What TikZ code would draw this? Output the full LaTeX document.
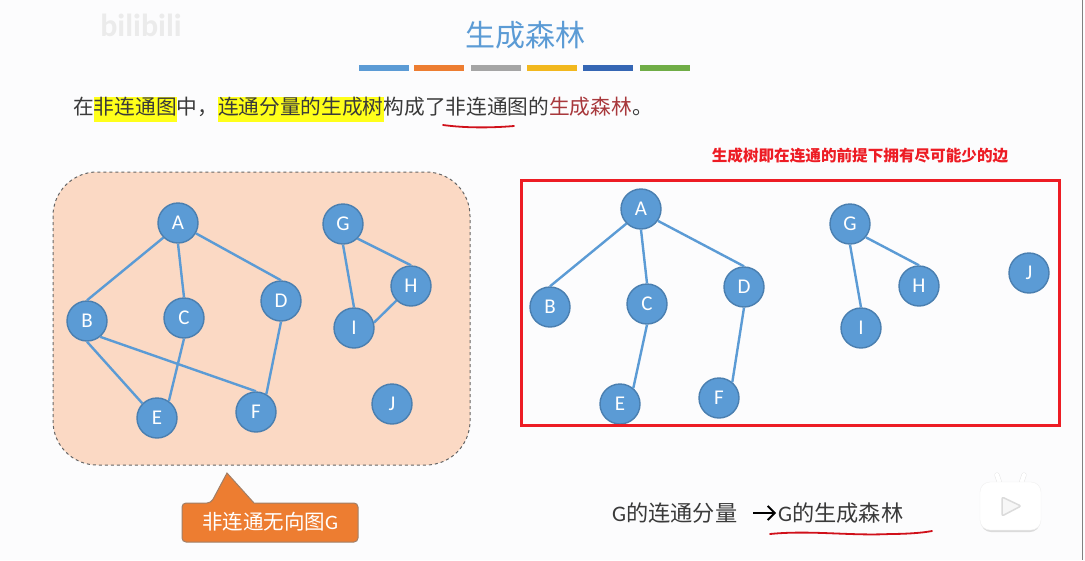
\documentclass[tikz,border=0pt]{standalone}
\usepackage{fontspec}
\usepackage{xcolor}
\setmainfont{Noto Sans CJK SC}
\newfontfamily\latinfont{Carlito}
\usetikzlibrary{positioning, arrows.meta}
\definecolor{pagewhite}{HTML}{FCFCFD}
\definecolor{nodeblue}{HTML}{5B9BD5}
\definecolor{nodeline}{HTML}{4A7FB0}
\definecolor{peach}{HTML}{FBD9C4}
\definecolor{calloutorange}{HTML}{ED7D31}
\definecolor{bargray}{HTML}{A5A5A5}
\definecolor{baryellow}{HTML}{F2B81E}
\definecolor{barblue}{HTML}{3566B4}
\definecolor{bargreen}{HTML}{70AD47}
\definecolor{darktext}{HTML}{3A3A3A}
\definecolor{darkred}{HTML}{A8383C}
\definecolor{boxred}{HTML}{ED1C24}
\definecolor{penred}{HTML}{D0101A}
\definecolor{markyellow}{HTML}{FFFF1A}
\newcommand{\marked}[1]{{\setlength{\fboxsep}{0pt}\colorbox{markyellow}{\strut #1}}}
\tikzset{
    vertex/.style={circle, draw=nodeline, fill=nodeblue, line width=1.4pt, minimum size=40pt, inner sep=0pt, text=white, font=\latinfont\fontsize{21}{22}\selectfont},
    arc/.style={draw=nodeblue, line width=2.4pt},
    colorbar/.style={inner sep=0pt, minimum height=6pt, minimum width=50pt},
    pen/.style={draw=penred, line width=1.8pt, line cap=round}
}

\begin{document}
\begin{tikzpicture}[x=1pt, y=-1pt]
\useasboundingbox (0,0) rectangle (1085,560);
\fill[pagewhite] (0,0) rectangle (1085,560);

% Watermark
\node[text=black!8, font=\latinfont\bfseries\fontsize{32}{34}\selectfont] (mark) at (141,25) {bilibili};

% Title
\node[text=nodeblue, font=\fontsize{30}{34}\selectfont] (title) at (525,35) {生成森林};
\node[colorbar, fill=nodeblue] (bar1) at (384,68) {};
\node[colorbar, fill=calloutorange] (bar2) at (439,68) {};
\node[colorbar, fill=bargray] (bar3) at (496,68) {};
\node[colorbar, fill=baryellow] (bar4) at (552,68) {};
\node[colorbar, fill=barblue] (bar5) at (608,68) {};
\node[colorbar, fill=bargreen] (bar6) at (665,68) {};

% Sentence
\node[anchor=west, inner sep=0pt, text=darktext, font=\fontsize{20.7}{25}\selectfont] (sentence) at (73,109) {在\marked{非连通图}中，\marked{连通分量的生成树}构成了非连通图的\textcolor{darkred}{生成森林}。};
\draw[pen] (443,125) .. controls (465,128) and (490,128) .. (514,126);

% Graph G
\draw[draw=gray!80!black, fill=peach, dashed, line width=1pt, rounded corners=44pt] (53,172) rectangle (470,465);

\node[vertex] (A) at (178,223) {A};
\node[vertex] (B) at (87,321) {B};
\node[vertex] (C) at (184,318) {C};
\node[vertex] (D) at (281,301) {D};
\node[vertex] (E) at (157,418) {E};
\node[vertex] (F) at (256,412) {F};
\node[vertex] (G) at (343,224) {G};
\node[vertex] (H) at (411,286) {H};
\node[vertex] (I) at (354,328) {I};
\node[vertex] (J) at (392,404) {J};

\draw[arc] (A.-135) -- (B.north);
\draw[arc] (A.south) -- (C.north);
\draw[arc] (A.-30) -- (D.north);
\draw[arc] (B.south) -- (E.135);
\draw[arc] (B.-50) -- (F.north);
\draw[arc] (C.south) -- (E.55);
\draw[arc] (D.south) -- (F.60);
\draw[arc] (G.-45) -- (H.north);
\draw[arc] (G.south) -- (I.north);
\draw[arc] (H.-135) -- (I.15);

% Callout
\draw[draw=gray!70!calloutorange, fill=calloutorange, line width=1pt, rounded corners=4pt] (182,503) -- (211,503) [sharp corners] -- (227,473) -- (254,503) [rounded corners=4pt] -- (358,503) -- (358,542) -- (182,542) -- cycle;
\node[text=white, font=\fontsize{20.5}{24}\selectfont] (gname) at (270,522) {非连通无向图{\latinfont G}};

% Note
\node[text=boxred, font=\bfseries\fontsize{15.6}{18}\selectfont] (note) at (860,156) {生成树即在连通的前提下拥有尽可能少的边};

% Forest
\node[vertex] (A2) at (641,209) {A};
\node[vertex] (B2) at (550,307) {B};
\node[vertex] (C2) at (647,304) {C};
\node[vertex] (D2) at (744,287) {D};
\node[vertex] (E2) at (620,404) {E};
\node[vertex] (F2) at (719,398) {F};
\node[vertex] (G2) at (850,224) {G};
\node[vertex] (H2) at (919,286) {H};
\node[vertex] (I2) at (861,328) {I};
\node[vertex] (J2) at (1029,273) {J};

\draw[arc] (A2.-135) -- (B2.north);
\draw[arc] (A2.south) -- (C2.north);
\draw[arc] (A2.-35) -- (D2.north);
\draw[arc] (C2.south) -- (E2.50);
\draw[arc] (D2.south) -- (F2.50);
\draw[arc] (G2.-40) -- (H2.north);
\draw[arc] (G2.south) -- (I2.north);

\draw[draw=boxred, line width=3pt] (521,180) rectangle (1059,425);

% Bottom line
\node[anchor=west, inner sep=0pt, text=darktext, font=\fontsize{22.2}{26}\selectfont] (comp) at (612,513) {{\latinfont G}的连通分量};
\node[anchor=west, inner sep=0pt, text=darktext, font=\fontsize{22.2}{26}\selectfont] (forest) at (778,513) {{\latinfont G}的生成森林};
\draw[-{Straight Barb[length=7pt, width=14pt]}, line width=1.8pt, black, shorten <=16pt, shorten >=2pt] (comp) -- (forest);
\draw[pen] (770,534) .. controls (810,530) and (850,536) .. (890,534) .. controls (905,534) and (922,533) .. (932,531);

% Player icon
\fill[black!14, rounded corners=10pt] (981,486) rectangle (1040,532);
\draw[black!10, line width=5pt, line cap=round] (1000,484) -- (997,475);
\draw[black!10, line width=5pt, line cap=round] (1021,484) -- (1024,475);
\draw[white, line width=4pt, line cap=round] (1000,484) -- (997,475);
\draw[white, line width=4pt, line cap=round] (1021,484) -- (1024,475);
\draw[fill=white, draw=black!6, rounded corners=10pt] (980,482) rectangle (1041,530);
\draw[draw=black!14, fill=black!3, line width=1.5pt, rounded corners=2pt] (1002,497) -- (1021,506) -- (1002,516) -- cycle;

\draw[gray, line width=1pt] (1082,0) -- (1082,560);
\end{tikzpicture}
\end{document}
